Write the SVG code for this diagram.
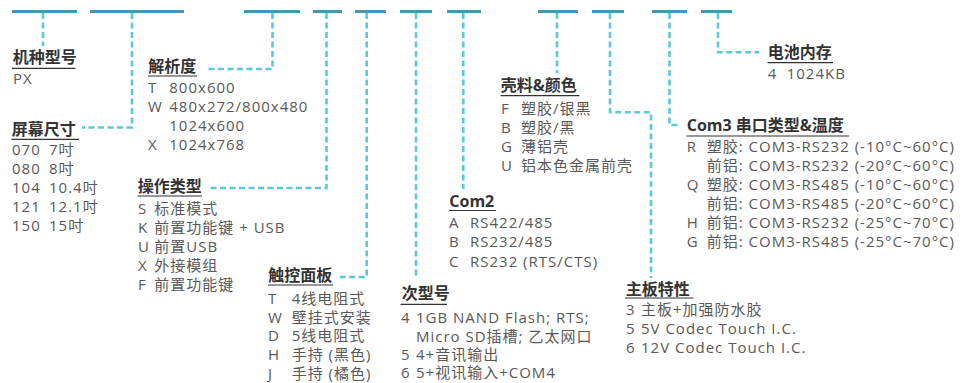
<svg xmlns="http://www.w3.org/2000/svg" width="970" height="383" viewBox="0 0 970 383">
<style>
.bar{fill:#4a94b4}
.con{fill:none;stroke:#5cc8d9;stroke-width:2.6;stroke-dasharray:6 3.5}
.h{font-family:"Open Sans","Noto Sans CJK SC",sans-serif;font-size:16px;font-weight:bold;fill:#333}
.t{font-family:"Open Sans","Noto Sans CJK SC",sans-serif;font-size:15px;letter-spacing:1px;fill:#595959}
.u{stroke:#333;stroke-width:1.2}
</style>
<rect width="970" height="383" fill="#fff"/>
<g id="code-bars">
<rect class="bar" x="12" y="10" width="65" height="3"/>
<rect class="bar" x="90" y="10" width="94" height="3"/>
<rect class="bar" x="244" y="10" width="56" height="3"/>
<rect class="bar" x="313" y="10" width="29" height="3"/>
<rect class="bar" x="355" y="10" width="31" height="3"/>
<rect class="bar" x="400" y="10" width="32" height="3"/>
<rect class="bar" x="447" y="10" width="34" height="3"/>
<rect class="bar" x="538" y="10" width="40" height="3"/>
<rect class="bar" x="592" y="10" width="32" height="3"/>
<rect class="bar" x="652" y="10" width="35" height="3"/>
<rect class="bar" x="701" y="10" width="31" height="3"/>
</g>
<g id="connectors">
<path class="con" d="M43 13V46"/>
<path class="con" d="M132 13V127.5H82"/>
<path class="con" d="M272.5 13V69H205"/>
<path class="con" d="M326.5 13V188H208"/>
<path class="con" d="M366.7 13V277H340"/>
<path class="con" d="M416 13V278"/>
<path class="con" d="M463.3 13V189"/>
<path class="con" d="M557 13V73"/>
<path class="con" d="M610 13V112.3H651V278"/>
<path class="con" d="M669.5 13V125H681"/>
<path class="con" d="M718 13V52.3H759"/>
</g>
<g id="model">
<text class="h" x="12.7" y="63">机种型号</text>
<line class="u" x1="12" y1="68.3" x2="75.5" y2="68.3"/>
<text class="t" x="13" y="84">PX</text>
</g>
<g id="screen-size">
<text class="h" x="11.7" y="135">屏幕尺寸</text>
<line class="u" x1="11.5" y1="139.3" x2="79" y2="139.3"/>
<text class="t" y="155"><tspan x="12">070</tspan><tspan x="49">7吋</tspan></text>
<text class="t" y="174"><tspan x="12">080</tspan><tspan x="49">8吋</tspan></text>
<text class="t" y="193"><tspan x="12">104</tspan><tspan x="49">10.4吋</tspan></text>
<text class="t" y="212"><tspan x="12">121</tspan><tspan x="49">12.1吋</tspan></text>
<text class="t" y="231"><tspan x="12">150</tspan><tspan x="49">15吋</tspan></text>
</g>
<g id="resolution">
<text class="h" x="148.3" y="71.5">解析度</text>
<line class="u" x1="148" y1="76" x2="197" y2="76"/>
<text class="t" y="92.7"><tspan x="148">T</tspan><tspan x="169.3">800x600</tspan></text>
<text class="t" y="111.7"><tspan x="148">W</tspan><tspan x="169.3">480x272/800x480</tspan></text>
<text class="t" y="131"><tspan x="169.3">1024x600</tspan></text>
<text class="t" y="150"><tspan x="148">X</tspan><tspan x="169.3">1024x768</tspan></text>
</g>
<g id="operation-type">
<text class="h" x="137.7" y="192.3">操作类型</text>
<line class="u" x1="137.5" y1="196" x2="202" y2="196"/>
<text class="t" y="214"><tspan x="138">S</tspan><tspan x="154.3">标准模式</tspan></text>
<text class="t" y="233"><tspan x="138">K</tspan><tspan x="154.3">前置功能键 + USB</tspan></text>
<text class="t" y="252"><tspan x="138">U</tspan><tspan x="154.3">前置USB</tspan></text>
<text class="t" y="271"><tspan x="138">X</tspan><tspan x="154.3">外接模组</tspan></text>
<text class="t" y="290"><tspan x="138">F</tspan><tspan x="154.3">前置功能键</tspan></text>
</g>
<g id="touch-panel">
<text class="h" x="268.3" y="281">触控面板</text>
<line class="u" x1="268" y1="285" x2="333" y2="285"/>
<text class="t" y="304"><tspan x="268">T</tspan><tspan x="291.7">4线电阻式</tspan></text>
<text class="t" y="322.7"><tspan x="268">W</tspan><tspan x="291.7">壁挂式安装</tspan></text>
<text class="t" y="341.3"><tspan x="268">D</tspan><tspan x="291.7">5线电阻式</tspan></text>
<text class="t" y="360"><tspan x="268">H</tspan><tspan x="291.7">手持 (黑色)</tspan></text>
<text class="t" y="378.7"><tspan x="268">J</tspan><tspan x="291.7">手持 (橘色)</tspan></text>
</g>
<g id="sub-model">
<text class="h" x="401.7" y="299">次型号</text>
<line class="u" x1="400.5" y1="304.3" x2="447" y2="304.3"/>
<text class="t" y="323.3"><tspan x="401">4</tspan><tspan x="416">1GB NAND Flash; RTS;</tspan></text>
<text class="t" y="341.7"><tspan x="416">Micro SD插槽; 乙太网口</tspan></text>
<text class="t" y="360"><tspan x="401">5</tspan><tspan x="416">4+音讯输出</tspan></text>
<text class="t" y="378.3"><tspan x="401">6</tspan><tspan x="416">5+视讯输入+COM4</tspan></text>
</g>
<g id="com2">
<text class="h" x="449.3" y="207">Com2</text>
<line class="u" x1="449" y1="210.5" x2="496" y2="210.5"/>
<text class="t" y="228.3"><tspan x="449">A</tspan><tspan x="470">RS422/485</tspan></text>
<text class="t" y="247.3"><tspan x="449">B</tspan><tspan x="470">RS232/485</tspan></text>
<text class="t" y="266.5"><tspan x="449">C</tspan><tspan x="470">RS232 (RTS/CTS)</tspan></text>
</g>
<g id="shell-color">
<text class="h" x="500.7" y="90.5">壳料&amp;颜色</text>
<line class="u" x1="500.5" y1="95.7" x2="579.5" y2="95.7"/>
<text class="t" y="114"><tspan x="501">F</tspan><tspan x="521">塑胶/银黑</tspan></text>
<text class="t" y="133"><tspan x="501">B</tspan><tspan x="521">塑胶/黑</tspan></text>
<text class="t" y="152"><tspan x="501">G</tspan><tspan x="521">薄铝壳</tspan></text>
<text class="t" y="171"><tspan x="501">U</tspan><tspan x="521">铝本色金属前壳</tspan></text>
</g>
<g id="mainboard">
<text class="h" x="625.7" y="294.5">主板特性</text>
<line class="u" x1="625" y1="298" x2="693.5" y2="298"/>
<text class="t" y="315"><tspan x="626">3</tspan><tspan x="641">主板+加强防水胶</tspan></text>
<text class="t" y="334"><tspan x="626">5</tspan><tspan x="641">5V Codec Touch I.C.</tspan></text>
<text class="t" y="353.3"><tspan x="626">6</tspan><tspan x="641">12V Codec Touch I.C.</tspan></text>
</g>
<g id="com3">
<text class="h" x="686.7" y="130.7">Com3 串口类型&amp;温度</text>
<line class="u" x1="686.5" y1="136" x2="849" y2="136"/>
<text class="t" y="151.7"><tspan x="686.7">R</tspan><tspan x="706.7">塑胶: COM3-RS232 (-10°C~60°C)</tspan></text>
<text class="t" y="170.8"><tspan x="706.7">前铝: COM3-RS232 (-20°C~60°C)</tspan></text>
<text class="t" y="189.9"><tspan x="686.7">Q</tspan><tspan x="706.7">塑胶: COM3-RS485 (-10°C~60°C)</tspan></text>
<text class="t" y="209"><tspan x="706.7">前铝: COM3-RS485 (-20°C~60°C)</tspan></text>
<text class="t" y="228.1"><tspan x="686.7">H</tspan><tspan x="706.7">前铝: COM3-RS232 (-25°C~70°C)</tspan></text>
<text class="t" y="247"><tspan x="686.7">G</tspan><tspan x="706.7">前铝: COM3-RS485 (-25°C~70°C)</tspan></text>
</g>
<g id="memory">
<text class="h" x="767.7" y="58">电池内存</text>
<line class="u" x1="767.5" y1="62.7" x2="833" y2="62.7"/>
<text class="t" y="79"><tspan x="767.7">4</tspan><tspan x="786.7">1024KB</tspan></text>
</g>
</svg>
